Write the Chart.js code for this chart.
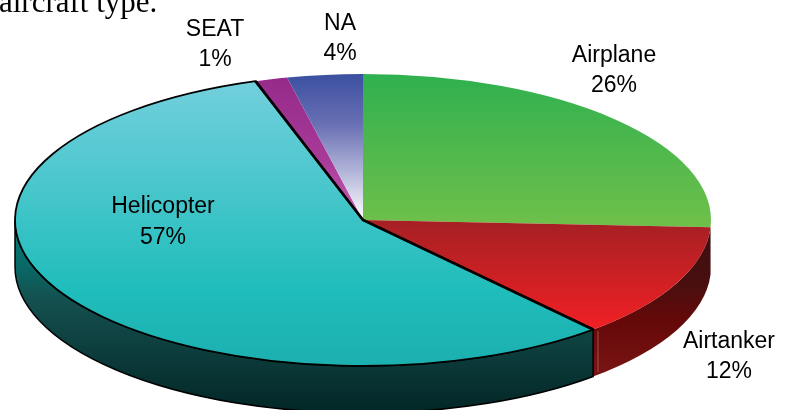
<!DOCTYPE html>
<html>
<head>
<meta charset="utf-8">
<style>
  html, body { margin: 0; padding: 0; background: #fff; overflow: hidden; }
  canvas { display: block; }
</style>
</head>
<body>
<canvas id="pieChart" width="786" height="410"></canvas>
<script src="https://cdn.jsdelivr.net/npm/chart.js@4/dist/chart.umd.min.js"></script>
<script>
const categories = ["Airplane", "Airtanker", "Helicopter", "SEAT", "NA"];
const shares = [25.8, 12.7, 56.5, 1.5, 3.5];
const shareLabels = ["26%", "12%", "57%", "1%", "4%"];

// where each label sits (center x, first line y, second line y)
const labelSpots = [
  [614, 56, 86],
  [729, 342, 372],
  [163, 207, 238],
  [215, 30, 60],
  [340, 24, 54]
];

const rx = 348;      // ellipse width of the pie top
const depth = 47;    // height of the pie wall

const canvas = document.getElementById("pieChart");
const ctx = canvas.getContext("2d");

function gradient(stops) {
  const g = ctx.createLinearGradient(0, stops[0][0], 0, stops[stops.length - 1][0]);
  const y0 = stops[0][0];
  const y1 = stops[stops.length - 1][0];
  stops.forEach(s => g.addColorStop((s[0] - y0) / (y1 - y0), s[1]));
  return g;
}

const topFills = [
  gradient([[73, "#2fb04f"], [228, "#70c04a"]]),
  gradient([[225, "#a82024"], [325, "#ee2024"]]),
  gradient([[78, "#74d0dd"], [290, "#1fbdbb"], [369, "#1cafaf"]]),
  gradient([[75, "#952a8a"], [160, "#a83a98"], [221, "#c860b8"]]),
  gradient([[73, "#3a4fa0"], [125, "#6a70b4"], [221, "#ffffff"]])
];

const wallFills = [
  null,
  gradient([[232, "#3a1010"], [285, "#4a0f0f"], [320, "#650808"], [375, "#7a1414"]]),
  gradient([[232, "#007d79"], [270, "#0a6663"], [300, "#14504f"], [413, "#032626"]]),
  null,
  null
];

const piePlugin = {
  id: "pie3d",
  beforeDatasetsDraw(chart) {
    const arcs = chart.getDatasetMeta(0).data;
    const c = chart.ctx;

    // walls first, only the front half of the pie has any
    arcs.forEach((arc, i) => {
      if (!wallFills[i]) return;
      const p = arc.getProps(["x", "y", "startAngle", "endAngle", "outerRadius"], true);
      const from = Math.max(p.startAngle, 0);
      const to = Math.min(p.endAngle, Math.PI);
      c.beginPath();
      c.ellipse(p.x, p.y, rx, p.outerRadius, 0, from, to);
      c.ellipse(p.x, p.y + depth, rx, p.outerRadius, 0, to, from, true);
      c.closePath();
      c.fillStyle = wallFills[i];
      c.fill();
      if (i === 2) {
        c.strokeStyle = "#000";
        c.lineWidth = 1.5;
        c.stroke();
      }
    });

    // squash the library's circle into the ellipse
    const p0 = arcs[0].getProps(["x", "outerRadius"], true);
    c.save();
    c.translate(p0.x, 0);
    c.scale(rx / p0.outerRadius, 1);
    c.translate(-p0.x, 0);
  },
  afterDatasetsDraw(chart) {
    const c = chart.ctx;
    c.restore();

    // outline of the helicopter slice, pen not squashed
    const p = chart.getDatasetMeta(0).data[2].getProps(["x", "y", "startAngle", "endAngle", "outerRadius"], true);
    c.beginPath();
    c.moveTo(p.x, p.y);
    c.ellipse(p.x, p.y, rx, p.outerRadius, 0, p.startAngle, p.endAngle);
    c.closePath();
    c.strokeStyle = "#000";
    c.lineWidth = 1.8;
    c.stroke();

    // the two cut edges are heavier, they carry a small shadow
    c.beginPath();
    c.moveTo(p.x + rx * Math.cos(p.startAngle), p.y + p.outerRadius * Math.sin(p.startAngle));
    c.lineTo(p.x, p.y);
    c.lineTo(p.x + rx * Math.cos(p.endAngle), p.y + p.outerRadius * Math.sin(p.endAngle));
    c.lineWidth = 2.8;
    c.stroke();

    // thin light seam on the red wall
    c.beginPath();
    c.moveTo(598, 331);
    c.lineTo(598, 372);
    c.strokeStyle = "#a05050";
    c.lineWidth = 1;
    c.stroke();
  },
  afterDraw(chart) {
    const c = chart.ctx;
    c.fillStyle = "#000";
    c.textAlign = "center";
    c.textBaseline = "middle";
    c.font = "23px 'Liberation Sans'";
    categories.forEach((name, i) => {
      c.fillText(name, labelSpots[i][0], labelSpots[i][1]);
      c.fillText(shareLabels[i], labelSpots[i][0], labelSpots[i][2]);
    });

    // tail of the caption above the figure
    c.textAlign = "left";
    c.textBaseline = "alphabetic";
    c.font = "31px 'Liberation Serif'";
    c.fillText("aircraft type.", -1, 12);
  }
};

const chart = new Chart(canvas, {
  type: "pie",
  data: {
    labels: categories,
    datasets: [
      {
        data: shares,
        backgroundColor: topFills,
        borderWidth: 0,
        clip: false
      }
    ]
  },
  options: {
    responsive: false,
    animation: false,
    layout: {
      padding: { left: 15, right: 75, top: 74, bottom: 44 }
    },
    plugins: {
      legend: { display: false },
      tooltip: { enabled: false }
    }
  },
  plugins: [piePlugin]
});
</script>
</body>
</html>
